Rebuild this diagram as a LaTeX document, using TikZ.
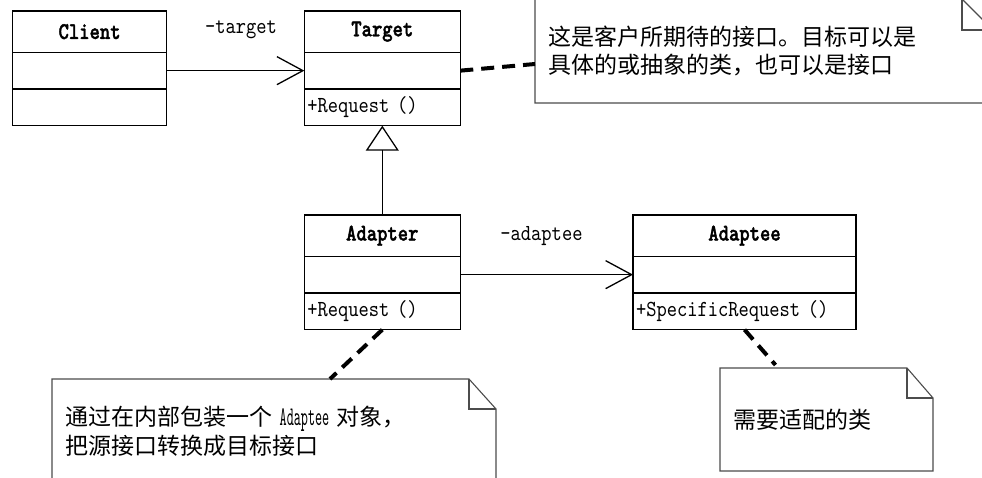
\documentclass[tikz,border=0pt]{standalone}
\usepackage{fontspec}
\newfontfamily\cjkfont{Noto Sans CJK SC}
\newfontface\umlfont[FakeStretch=0.85]{lmmono10-regular.otf}
\newfontface\umlbold[FakeStretch=0.82, FakeBold=1.6]{lmmonolt10-bold.otf}
\newfontface\umlnarrow[FakeStretch=0.5]{lmmono10-regular.otf}
\usepackage{tikz}
\usetikzlibrary{arrows.meta, positioning}

\begin{document}
\begin{tikzpicture}[
      x=1pt, y=-1pt,
      font=\fontsize{23}{28}\umlfont,
      clshead/.style={draw, line width=1.3pt, outer sep=0pt, minimum height=41.3, font=\fontsize{24}{28}\umlbold},
      clsbody/.style={draw, line width=1.3pt, outer sep=0pt, minimum height=36.7, inner xsep=3pt, align=left, text width=#1},
      memo/.style={inner xsep=13pt, inner ysep=0pt, outer sep=0pt, align=left, font=\fontsize{23}{28.5}\cjkfont},
      memoline/.style={draw=black!70, line width=1.1pt},
      assoc/.style={-{Straight Barb[length=26pt, width=28pt]}, line width=1.3pt},
      inherit/.style={-{Triangle[open, length=25pt, width=33pt]}, line width=1.3pt},
      notelink/.style={line width=4pt, dash pattern=on 13pt off 8pt},
    ]
    \useasboundingbox[fill=white] (0,0) rectangle (982,478);

    \node[clshead, minimum width=154] (client) at (89.6,31.65) {Client};
    \node[clsbody=148pt, below=0pt of client] (client-attr) {};
    \node[clsbody=148pt, below=0pt of client-attr] (client-ops) {};

    \node[clshead, minimum width=156] (target) at (382.3,31.65) {Target};
    \node[clsbody=150pt, below=0pt of target] (target-attr) {};
    \node[clsbody=150pt, below=0pt of target-attr] (target-ops) {+Request ()};

    \node[clshead, minimum width=156] (adapter) at (382.3,235.65) {Adapter};
    \node[clsbody=150pt, below=0pt of adapter] (adapter-attr) {};
    \node[clsbody=150pt, below=0pt of adapter-attr] (adapter-ops) {+Request ()};

    \node[clshead, minimum width=223] (adaptee) at (744.5,235.65) {Adaptee};
    \node[clsbody=217pt, below=0pt of adaptee] (adaptee-attr) {};
    \node[clsbody=217pt, below=0pt of adaptee-attr] (adaptee-ops) {+SpecificRequest ()};

    \node[memo, text width=432pt, minimum height=104] (target-note) at (764,51)
      {这是客户所期待的接口。目标可以是\\具体的或抽象的类，也可以是接口};
    \node[memo, text width=418pt, minimum height=105] (adapter-note) at (274,431.5)
      {通过在内部包装一个 {\fontsize{27}{28.5}\umlnarrow Adaptee} 对象，\\把源接口转换成目标接口};
    \node[memo, text width=187pt, minimum height=103] (adaptee-note) at (826.5,419.5)
      {需要适配的类};

    \draw[memoline] (target-note.north west) -- ([xshift=-31pt]target-note.north east) -- ([yshift=-31pt]target-note.north east) -- (target-note.south east) -- (target-note.south west) -- cycle;
    \draw[memoline] ([xshift=-31pt]target-note.north east) |- ([yshift=-31pt]target-note.north east);
    \draw[memoline] (adapter-note.north west) -- ([xshift=-27pt]adapter-note.north east) -- ([yshift=-30pt]adapter-note.north east) -- (adapter-note.south east) -- (adapter-note.south west) -- cycle;
    \draw[memoline] ([xshift=-27pt]adapter-note.north east) |- ([yshift=-30pt]adapter-note.north east);
    \draw[memoline] (adaptee-note.north west) -- ([xshift=-26pt]adaptee-note.north east) -- ([yshift=-30pt]adaptee-note.north east) -- (adaptee-note.south east) -- (adaptee-note.south west) -- cycle;
    \draw[memoline] ([xshift=-26pt]adaptee-note.north east) |- ([yshift=-30pt]adaptee-note.north east);

    \draw[assoc] (client-attr) -- node[pos=.54, yshift=41pt] (target-role) {-target} (target-attr);
    \draw[assoc] (adapter-attr) -- node[pos=.47, yshift=38.6pt] (adaptee-role) {-adaptee} (adaptee-attr);
    \draw[inherit] (adapter) -- (target-ops);

    \draw[notelink] (target-attr.east) -- ([yshift=-13pt]target-note.west);
    \draw[notelink] (adapter-ops.south) -- ([xshift=56pt]adapter-note.north);
    \draw[notelink] (adaptee-ops.south) -- ([xshift=-51pt, yshift=3pt]adaptee-note.north);
  \end{tikzpicture}
\end{document}
